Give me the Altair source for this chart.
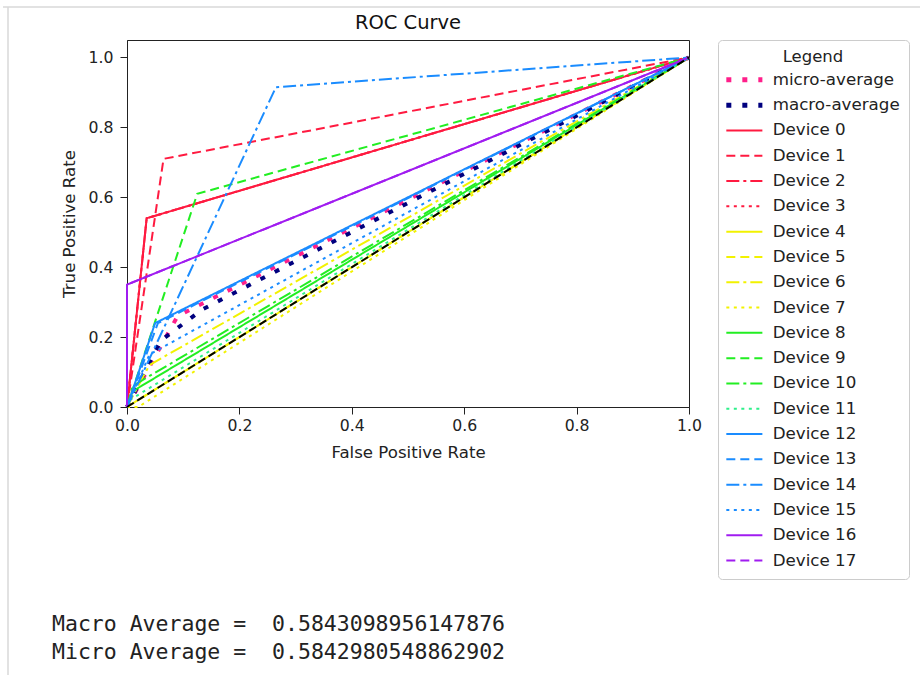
import altair as alt
import pandas as pd

# ---------------- data ----------------
series_names = ["micro-average", "macro-average"] + [f"Device {i}" for i in range(18)]
series_colors = (["#ff1f8a", "#00007f"]
                 + ["#ff1a40"] * 4
                 + ["#f2f200"] * 4
                 + ["#22ee22", "#22ee22", "#22ee22", "#2ef08a"]
                 + ["#1a8cff"] * 4
                 + ["#a01cf0"] * 2)
series_styles = (["avg", "avg"]
                 + ["solid", "dashed", "dashdot", "dotted"] * 4
                 + ["solid", "dashed"])
series_widths = [4, 4] + [2] * 18

micro_fpr = [0.0, 0.09, 1.0]
micro_tpr = [0.0, 0.26, 1.0]
macro_fpr = [0.0, 0.06, 0.135, 1.0]
macro_tpr = [0.0, 0.19, 0.28, 1.0]

# knee point of each device ROC curve (curve goes (0,0) -> knee -> (1,1))
device_knee_fpr = [0.035, 0.065, 0.035, 0.035, 0.5, 0.5, 0.04, 0.02, 0.01,
                   0.125, 0.01, 0.005, 0.05, 0.055, 0.265, 0.04, 0.0, 0.0]
device_knee_tpr = [0.54, 0.71, 0.54, 0.54, 0.5, 0.5, 0.12, 0.0, 0.045,
                   0.61, 0.06, 0.02, 0.24, 0.24, 0.915, 0.15, 0.35, 0.35]

diag_fpr = [0.0, 1.0]
diag_tpr = [0.0, 1.0]

x_ticks = [0.0, 0.2, 0.4, 0.6, 0.8, 1.0]
y_ticks = [0.0, 0.2, 0.4, 0.6, 0.8, 1.0]

chart_title = ["ROC Curve"]
output_lines = ["Macro Average =\u00a0 0.5843098956147876",
                "Micro Average =\u00a0 0.5842980548862902"]

dash_patterns = {"solid": [1, 0], "dashed": [9, 5], "dashdot": [13, 4, 3, 4],
                 "dotted": [3, 4.5], "avg": [5, 11]}

# ---------------- build table ----------------
rows = []
curves = [(micro_fpr, micro_tpr), (macro_fpr, macro_tpr)] + [
    ([0.0, f, 1.0], [0.0, t, 1.0]) for f, t in zip(device_knee_fpr, device_knee_tpr)]
for name, w, (fs, ts) in zip(series_names, series_widths, curves):
    for i, (f, t) in enumerate(zip(fs, ts)):
        rows.append({"series": name, "fpr": f, "tpr": t, "idx": i, "lw": w})
df = pd.DataFrame(rows)
diag_df = pd.DataFrame({"fpr": diag_fpr, "tpr": diag_tpr})
text_df = pd.DataFrame({"line": output_lines, "row": [0, 1]})
title_df = pd.DataFrame({"t": chart_title})

FONT = "DejaVu Sans"

xscale = alt.Scale(domain=[0, 1], nice=False, zero=False)
yscale = alt.Scale(domain=[0, 1.05], nice=False, zero=False)

lines = alt.Chart(df).mark_line(strokeCap="butt").encode(
    x=alt.X("fpr:Q", scale=xscale,
            axis=alt.Axis(title="False Positive Rate", values=x_ticks, format=".1f",
                          labelFlush=False, titlePadding=12)),
    y=alt.Y("tpr:Q", scale=yscale,
            axis=alt.Axis(title="True Positive Rate", values=y_ticks, format=".1f",
                          labelFlush=False, labelPadding=7, titlePadding=11)),
    color=alt.Color("series:N",
                    scale=alt.Scale(domain=series_names, range=series_colors),
                    legend=alt.Legend(title="Legend", orient="none", legendX=591, legendY=0,
                                      symbolType="stroke", symbolSize=1300, symbolOffset=9,
                                      symbolStrokeWidth={"expr": "indexof(['micro-average','macro-average'], datum.value) >= 0 ? 5 : 2"})),
    strokeDash=alt.StrokeDash("series:N",
                              scale=alt.Scale(domain=series_names,
                                              range=[dash_patterns[s] for s in series_styles]),
                              legend=alt.Legend(title="Legend")),
    strokeWidth=alt.StrokeWidth("lw:Q", scale=None, legend=None),
    order="idx:Q",
)

diag = alt.Chart(diag_df).mark_line(color="black", strokeWidth=2, strokeDash=[8, 4]).encode(
    x=alt.X("fpr:Q", scale=xscale),
    y=alt.Y("tpr:Q", scale=yscale),
)

title_mark = alt.Chart(title_df).mark_text(
    align="center", baseline="middle", font=FONT, fontSize=19.5, color="#111111"
).encode(x=alt.value(281), y=alt.value(-17), text="t:N")

text_style = dict(align="left", baseline="middle", font="DejaVu Sans Mono",
                  fontSize=21.5, color="#222222")
text0 = alt.Chart(text_df[text_df.row == 0]).mark_text(**text_style).encode(
    x=alt.value(-75), y=alt.value(585), text="line:N")
text1 = alt.Chart(text_df[text_df.row == 1]).mark_text(**text_style).encode(
    x=alt.value(-75), y=alt.value(613), text="line:N")

border_v = alt.Chart(diag_df.head(1)).mark_rule(color="#d9d9d9", strokeWidth=1.5).encode(
    x=alt.value(-119), y=alt.value(-33), y2=alt.value(640))
border_h = alt.Chart(diag_df.head(1)).mark_rule(color="#d9d9d9", strokeWidth=1.5).encode(
    x=alt.value(-124), x2=alt.value(793), y=alt.value(-33))

chart = alt.layer(lines, diag, title_mark, text0, text1, border_v, border_h).properties(
    width=562, height=367,
    autosize=alt.AutoSizeParams(type="none"),
    padding={"left": 127, "top": 40, "right": 231, "bottom": 268},
    background="white",
).configure_view(
    stroke="#222222", strokeWidth=1
).configure_axis(
    grid=False, domainColor="#222222", tickColor="#222222", tickSize=7,
    labelFont=FONT, labelFontSize=15.7, labelColor="#222222", labelPadding=4,
    titleFont=FONT, titleFontSize=16.6, titleFontWeight="normal", titleColor="#222222",
).configure_legend(
    fillColor="white", strokeColor="#cccccc", cornerRadius=4, padding=9,
    titleFont=FONT, titleFontSize=16.5, titleFontWeight="normal", titleColor="#222222",
    titleAnchor="middle", titlePadding=6,
    labelFont=FONT, labelFontSize=16.7, labelColor="#222222", labelOffset=20,
    rowPadding=4.3, gridAlign="all",
)

chart.save("out.html", embed_options={"renderer": "svg", "actions": False})
